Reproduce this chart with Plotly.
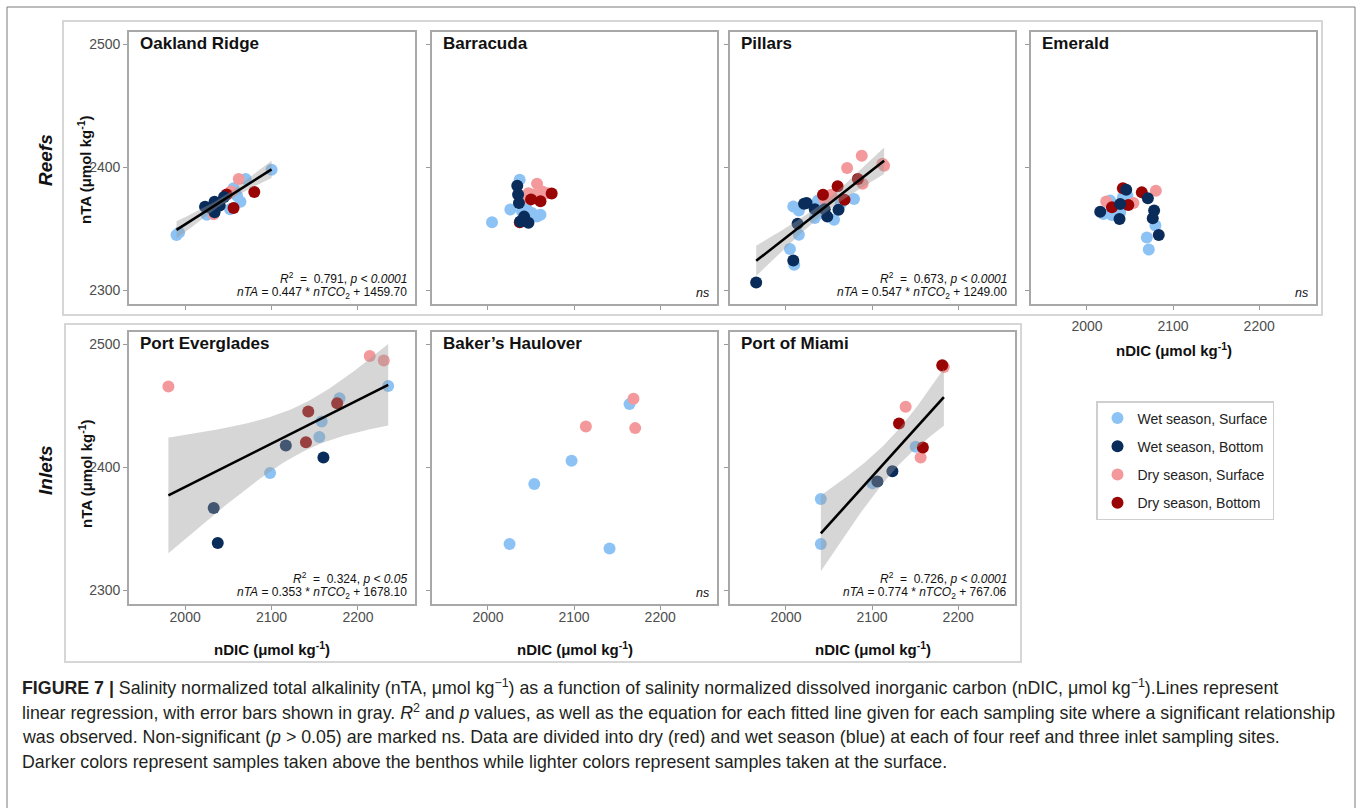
import numpy as np
import plotly.graph_objects as go

W, H = 1362, 808
FONT = "Liberation Sans, Arial, sans-serif"

# ---------------- data (nDIC, nTA) ----------------
oakland_wet_surface = [(1990, 2345), (1993, 2347), (2100, 2398), (2070, 2390.5), (2056, 2383),
                       (2064, 2372), (2052, 2366), (2025, 2361.5), (2060, 2377)]
oakland_wet_bottom = [(2023, 2368), (2034, 2372), (2045, 2376), (2034, 2363.5), (2040, 2369), (2030, 2367)]
oakland_dry_surface = [(2062, 2390.5), (2053, 2380.5), (2033, 2362)]
oakland_dry_bottom = [(2080, 2380), (2056, 2367), (2048, 2378)]

barracuda_wet_surface = [(2004.7, 2355.4), (2036.8, 2390), (2026, 2365.7), (2039.5, 2364.3), (2051, 2363),
                         (2057, 2360), (2061, 2361.6), (2045, 2366)]
barracuda_wet_bottom = [(2034, 2385), (2035, 2378), (2036, 2371), (2037.5, 2356), (2047, 2355), (2042, 2360)]
barracuda_dry_surface = [(2057, 2386.8), (2047, 2379), (2053, 2378), (2063, 2380.5), (2069, 2379), (2038, 2373)]
barracuda_dry_bottom = [(2074, 2378.7), (2061, 2372.4), (2037, 2355.4), (2050, 2374)]

pillars_wet_surface = [(2004.6, 2333.6), (2009.6, 2320.9), (2015, 2345.3), (2008.5, 2368.3), (2015, 2365),
                       (2033.5, 2358.8), (2037, 2373), (2041, 2363), (2055.8, 2357.5), (2063.5, 2370.2),
                       (2079, 2374.3)]
pillars_wet_bottom = [(1965.4, 2306.5), (2008.5, 2324.4), (2013.5, 2354.2), (2021, 2370.5), (2024, 2371),
                      (2033.5, 2366), (2048, 2360), (2061, 2365.6), (2045, 2366)]
pillars_dry_surface = [(2052.7, 2377.8), (2045, 2373.7), (2071, 2399.5), (2088, 2409.5), (2089, 2386.7),
                       (2114, 2401.4), (2112, 2403)]
pillars_dry_bottom = [(2043, 2377.8), (2060, 2384.6), (2068, 2373.7), (2083.5, 2390.5)]

emerald_wet_surface = [(2019.3, 2362.2), (2027, 2373), (2029, 2361.4), (2038.6, 2363.5), (2041.7, 2375.7),
                       (2047, 2377), (2079.5, 2352.7), (2069.5, 2343), (2071.8, 2333.2)]
emerald_wet_bottom = [(2015.4, 2364), (2037.8, 2358.1), (2038.6, 2370.3), (2045.6, 2381.9), (2070.7, 2374.9),
                      (2078, 2364.9), (2076.4, 2358.6), (2083.4, 2345.1)]
emerald_dry_surface = [(2022.4, 2372.2), (2054, 2371), (2080, 2381)]
emerald_dry_bottom = [(2029, 2367.6), (2041.7, 2383), (2048, 2369.5), (2063.7, 2379.7)]

everglades_wet_surface = [(2235, 2466.2), (2178.6, 2456.2), (2158, 2437.3), (2155.3, 2424.6), (2098.3, 2395.4)]
everglades_wet_bottom = [(2116.5, 2417.8), (2160, 2408.1), (2033, 2367), (2037.7, 2338.6)]
everglades_dry_surface = [(1980.6, 2465.7), (2213.6, 2490.5), (2229.9, 2486.8)]
everglades_dry_bottom = [(2175.9, 2452.2), (2142.5, 2445.4), (2139.8, 2420.5)]

bakers_wet_surface = [(2025.1, 2337.8), (2053.8, 2386.5), (2097.1, 2405.4), (2141.2, 2334.1), (2164.4, 2451.4)]
bakers_wet_bottom = []
bakers_dry_surface = [(2169, 2455.7), (2113.7, 2433.2), (2171, 2431.9)]
bakers_dry_bottom = []

miami_wet_surface = [(2040.5, 2374.3), (2040.5, 2337.8), (2100.4, 2387), (2150.6, 2416.8)]
miami_wet_bottom = [(2106.2, 2388.6), (2123.6, 2396.8)]
miami_dry_surface = [(2156.4, 2408.1), (2139, 2449.2), (2183.4, 2481.6)]
miami_dry_bottom = [(2159, 2416.2), (2131.3, 2435.7), (2181.5, 2483)]

site_names = ["Oakland Ridge", "Barracuda", "Pillars", "Emerald",
              "Port Everglades", "Baker\u2019s Haulover", "Port of Miami"]
# fitted regressions (slope, intercept) or None if not significant
fit_slopes = [0.447, None, 0.547, None, 0.353, None, 0.774]
fit_intercepts = [1459.70, None, 1249.00, None, 1678.10, None, 767.06]
fit_r2 = ["0.791", None, "0.673", None, "0.324", None, "0.726"]
fit_p = ["0.0001", None, "0.0001", None, "0.05", None, "0.0001"]

group_names = ["Wet season, Surface", "Wet season, Bottom", "Dry season, Surface", "Dry season, Bottom"]
group_colors = ["#8DC3F4", "#0A2C5A", "#F4999B", "#990505"]

site_data = [
    [oakland_wet_surface, oakland_wet_bottom, oakland_dry_surface, oakland_dry_bottom],
    [barracuda_wet_surface, barracuda_wet_bottom, barracuda_dry_surface, barracuda_dry_bottom],
    [pillars_wet_surface, pillars_wet_bottom, pillars_dry_surface, pillars_dry_bottom],
    [emerald_wet_surface, emerald_wet_bottom, emerald_dry_surface, emerald_dry_bottom],
    [everglades_wet_surface, everglades_wet_bottom, everglades_dry_surface, everglades_dry_bottom],
    [bakers_wet_surface, bakers_wet_bottom, bakers_dry_surface, bakers_dry_bottom],
    [miami_wet_surface, miami_wet_bottom, miami_dry_surface, miami_dry_bottom],
]

x_ticks = [2000, 2100, 2200]
y_ticks = [2300, 2400, 2500]

# ---------------- layout geometry (pixels) ----------------
col_px = [(129, 415), (432, 717), (730, 1015), (1031, 1316)]
row_px = [(32, 304), (332, 604)]
panel_pos = [(0, 0), (0, 1), (0, 2), (0, 3), (1, 0), (1, 1), (1, 2)]


def PX(x):
    return x / W


def PY(y):
    return 1 - y / H


def t_crit(df):
    z = 1.959964
    return z + (z ** 3 + z) / (4 * df) + (5 * z ** 5 + 16 * z ** 3 + 3 * z) / (96 * df ** 2)


def conf_band(points, slope, intercept):
    x = np.array([p[0] for p in points], float)
    y = np.array([p[1] for p in points], float)
    n = len(x)
    res = y - (slope * x + intercept)
    s = np.sqrt(np.sum(res ** 2) / (n - 2))
    xbar = x.mean()
    sxx = np.sum((x - xbar) ** 2)
    xs = np.linspace(x.min(), x.max(), 80)
    half = t_crit(n - 2) * s * np.sqrt(1 / n + (xs - xbar) ** 2 / sxx)
    yc = slope * xs + intercept
    return xs, yc - half, yc + half


fig = go.Figure()
draw_order = [0, 2, 3, 1]
legend_rank = {0: 1, 1: 2, 2: 3, 3: 4}

for i, (name, groups) in enumerate(zip(site_names, site_data)):
    ax = "" if i == 0 else str(i + 1)
    xa, ya = "x" + ax, "y" + ax
    for g in draw_order:
        pts = groups[g]
        if not pts:
            continue
        fig.add_trace(go.Scatter(
            x=[p[0] for p in pts], y=[p[1] for p in pts], mode="markers",
            marker=dict(size=12, color=group_colors[g], line=dict(width=0)),
            name=group_names[g], legendgroup=group_names[g], legendrank=legend_rank[g],
            showlegend=(i == 0), xaxis=xa, yaxis=ya, hoverinfo="skip"))
    if fit_slopes[i] is not None:
        all_pts = [p for grp in groups for p in grp]
        xs, lo, hi = conf_band(all_pts, fit_slopes[i], fit_intercepts[i])
        fig.add_trace(go.Scatter(
            x=np.concatenate([xs, xs[::-1]]), y=np.concatenate([lo, hi[::-1]]),
            fill="toself", fillcolor="rgba(153,153,153,0.4)", line=dict(width=0),
            mode="lines", showlegend=False, xaxis=xa, yaxis=ya, hoverinfo="skip"))
        xl = np.array([xs.min(), xs.max()])
        fig.add_trace(go.Scatter(
            x=xl, y=fit_slopes[i] * xl + fit_intercepts[i], mode="lines",
            line=dict(color="black", width=2.6), showlegend=False,
            xaxis=xa, yaxis=ya, hoverinfo="skip"))

layout = dict(
    width=W, height=H, margin=dict(l=0, r=0, t=0, b=0),
    paper_bgcolor="white", plot_bgcolor="white",
    font=dict(family=FONT, color="#222"),
    legend=dict(x=PX(1096), y=PY(401), xanchor="left", yanchor="top",
                bordercolor="#cfcfcf", borderwidth=1.5, bgcolor="white",
                font=dict(size=14, family=FONT, color="#222"),
                traceorder="grouped", tracegroupgap=7, itemwidth=30),
)
annotations = []
shapes = []

for i, (r, c) in enumerate(panel_pos):
    ax = "" if i == 0 else str(i + 1)
    x0, x1 = col_px[c]
    y0, y1 = row_px[r]
    show_x = (r == 1) or (i == 3)
    show_y = (c == 0)
    xaxis = dict(domain=[PX(x0), PX(x1)], range=[1935, 2266], tickvals=x_ticks,
                 ticks="outside", ticklen=4, tickcolor="#9a9a9a", tickwidth=1,
                 showline=True, mirror=True, linecolor="#a8a8a8", linewidth=1.6,
                 showgrid=False, zeroline=False, showticklabels=show_x,
                 tickfont=dict(size=14, color="#4d4d4d", family=FONT),
                 ticklabelstandoff=(4 if i == 3 else -5),
                 anchor="y" + ax)
    yaxis = dict(domain=[PY(y1), PY(y0)], range=[2289, 2510], tickvals=y_ticks,
                 ticks="outside", ticklen=4, tickcolor="#9a9a9a", tickwidth=1,
                 showline=True, mirror=True, linecolor="#a8a8a8", linewidth=1.6,
                 showgrid=False, zeroline=False, showticklabels=show_y,
                 tickfont=dict(size=14, color="#4d4d4d", family=FONT),
                 anchor="x" + ax)
    layout["xaxis" + ax] = xaxis
    layout["yaxis" + ax] = yaxis

    # panel title
    annotations.append(dict(x=PX(x0 + 9), y=PY(y0 + 11), xref="paper", yref="paper",
                            text="<b>%s</b>" % site_names[i], showarrow=False,
                            xanchor="left", yanchor="middle",
                            font=dict(size=17, color="#111", family=FONT)))
    # stats / ns
    if fit_slopes[i] is not None:
        annotations.append(dict(
            x=PX(x1 - 6), y=PY(y1 - 26), xref="paper", yref="paper", showarrow=False,
            xanchor="right", yanchor="middle",
            text="<i>R</i><sup>2</sup>  =  %s, <i>p < %s</i>" % (fit_r2[i], fit_p[i]),
            font=dict(size=12, color="#111", family=FONT)))
        annotations.append(dict(
            x=PX(x1 - 6), y=PY(y1 - 11), xref="paper", yref="paper", showarrow=False,
            xanchor="right", yanchor="middle",
            text="<i>nTA</i> = %.3f * <i>nTCO</i><sub>2</sub> + %.2f" % (fit_slopes[i], fit_intercepts[i]),
            font=dict(size=12, color="#111", family=FONT)))
    else:
        annotations.append(dict(
            x=PX(x1 - 6), y=PY(y1 - 11), xref="paper", yref="paper", showarrow=False,
            xanchor="right", yanchor="middle", text="<i>ns</i>",
            font=dict(size=12.5, color="#111", family=FONT)))
    # x axis title
    if show_x:
        ty = 648 if r == 1 else 350
        annotations.append(dict(
            x=PX((x0 + x1) / 2), y=PY(ty), xref="paper", yref="paper", showarrow=False,
            xanchor="center", yanchor="middle",
            text="<b>nDIC (μmol kg<sup>-1</sup>)</b>",
            font=dict(size=15, color="#111", family=FONT)))

# y axis titles and row labels
for ty in (170, 474):
    annotations.append(dict(x=PX(85), y=PY(ty), xref="paper", yref="paper", showarrow=False,
                            textangle=-90, xanchor="center", yanchor="middle",
                            text="<b>nTA (μmol kg<sup>-1</sup>)</b>",
                            font=dict(size=15, color="#111", family=FONT)))
for lab, ty in (("Reefs", 160), ("Inlets", 470)):
    annotations.append(dict(x=PX(46), y=PY(ty), xref="paper", yref="paper", showarrow=False,
                            textangle=-90, xanchor="center", yanchor="middle",
                            text="<b><i>%s</i></b>" % lab,
                            font=dict(size=19, color="#111", family=FONT)))

# caption
caption_lines = [
    "<b>FIGURE 7 |</b> Salinity normalized total alkalinity (nTA, μmol kg<sup>−1</sup>) as a function of salinity normalized dissolved inorganic carbon (nDIC, μmol kg<sup>−1</sup>).Lines represent",
    "linear regression, with error bars shown in gray. <i>R</i><sup>2</sup> and <i>p</i> values, as well as the equation for each fitted line given for each sampling site where a significant relationship",
    "was observed. Non-significant (<i>p</i> > 0.05) are marked ns. Data are divided into dry (red) and wet season (blue) at each of four reef and three inlet sampling sites.",
    "Darker colors represent samples taken above the benthos while lighter colors represent samples taken at the surface.",
]
for k, line in enumerate(caption_lines):
    annotations.append(dict(x=PX(20), y=PY(687 + 25 * k), xref="paper", yref="paper",
                            showarrow=False, xanchor="left", yanchor="middle", text=line,
                            font=dict(size=17.8, color="#231f20", family=FONT)))

# frames
shapes.append(dict(type="rect", xref="paper", yref="paper", x0=PX(7), x1=PX(1355), y0=PY(812), y1=PY(7),
                   line=dict(color="#7a7a7a", width=1)))
shapes.append(dict(type="rect", xref="paper", yref="paper", x0=PX(63), x1=PX(1322), y0=PY(315), y1=PY(21),
                   line=dict(color="#d6d6d6", width=2), layer="below"))
shapes.append(dict(type="rect", xref="paper", yref="paper", x0=PX(65), x1=PX(1021), y0=PY(662), y1=PY(324),
                   line=dict(color="#d6d6d6", width=2), layer="below"))

layout["annotations"] = annotations
layout["shapes"] = shapes
fig.update_layout(**layout)
fig.write_html("out.html")
